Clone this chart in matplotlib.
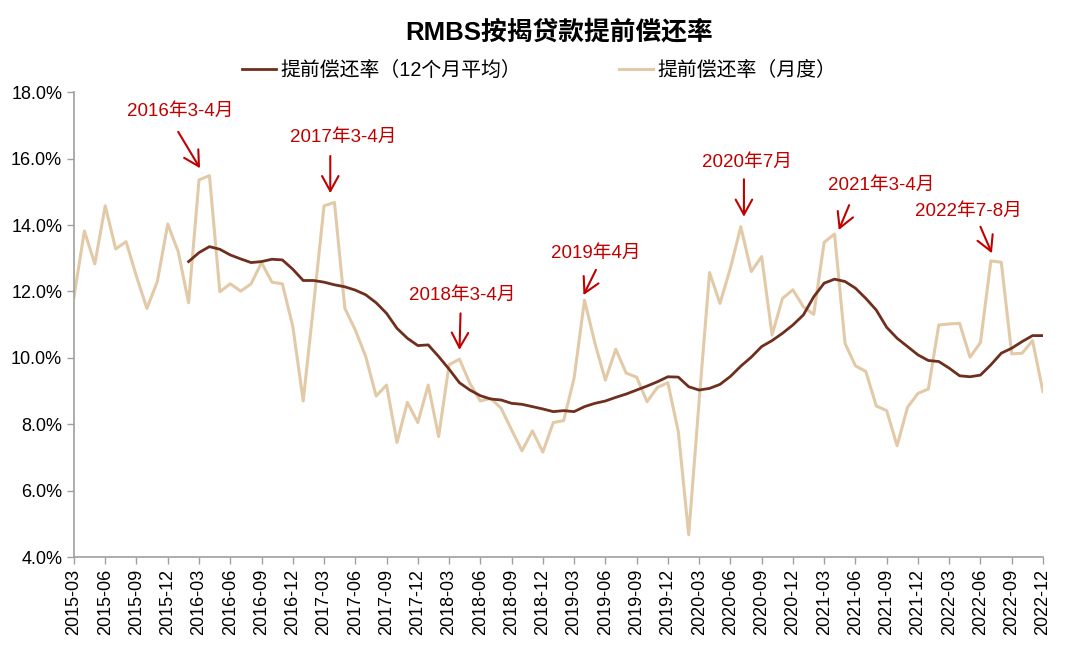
import numpy as np
import pandas as pd
import matplotlib
matplotlib.use('Agg')
import matplotlib.pyplot as plt

plt.rcParams['font.family'] = ['Liberation Sans', 'Noto Sans CJK SC', 'DejaVu Sans']
plt.rcParams['axes.unicode_minus'] = False

# month axis 2015-03 .. 2022-12
months = pd.date_range('2015-03-01', '2022-12-01', freq='MS').strftime('%Y-%m').tolist()

# monthly prepayment rate (%)
monthly = [
    11.84, 13.82, 12.83, 14.58, 13.28, 13.50, 12.45, 11.49, 12.30, 14.03, 13.20, 11.66,  # 2015-03..2016-02
    15.36, 15.49, 11.99, 12.23, 12.01, 12.23, 12.87, 12.28, 12.23, 10.95, 8.70, 11.60,   # 2016-03..2017-02
    14.58, 14.68, 11.49, 10.84, 10.04, 8.85, 9.18, 7.45, 8.66, 8.05, 9.18, 7.63,         # 2017-03..2018-02
    9.79, 9.96, 9.23, 8.70, 8.78, 8.48, 7.83, 7.20, 7.80, 7.16, 8.05, 8.11,              # 2018-03..2019-02
    9.39, 11.74, 10.44, 9.33, 10.26, 9.54, 9.42, 8.68, 9.11, 9.25, 7.78, 4.67,           # 2019-03..2020-02
    8.70, 12.57, 11.64, 12.70, 13.95, 12.60, 13.05, 10.69, 11.79, 12.05, 11.54, 11.31,   # 2020-03..2021-02
    13.48, 13.73, 10.44, 9.76, 9.59, 8.55, 8.41, 7.35, 8.51, 8.93, 9.06, 10.99,          # 2021-03..2022-02
    11.02, 11.04, 10.02, 10.46, 12.92, 12.88, 10.12, 10.14, 10.52, 8.98,                 # 2022-03..2022-12
]

# 12-month average (%), available from 2016-02
avg12 = [np.nan] * 11 + [
    12.90,
    13.17, 13.35, 13.27, 13.10, 12.98, 12.87, 12.90, 12.97, 12.95, 12.67, 12.33, 12.33,
    12.28, 12.20, 12.14, 12.04, 11.90, 11.66, 11.34, 10.89, 10.59, 10.37, 10.39, 10.04,
    9.66, 9.25, 9.03, 8.86, 8.76, 8.73, 8.63, 8.60, 8.53, 8.46, 8.38, 8.41,
    8.38, 8.53, 8.63, 8.70, 8.81, 8.91, 9.03, 9.15, 9.28, 9.43, 9.42, 9.13,
    9.03, 9.08, 9.20, 9.44, 9.75, 10.02, 10.34, 10.52, 10.74, 10.99, 11.29, 11.84,
    12.25, 12.37, 12.30, 12.10, 11.79, 11.44, 10.92, 10.59, 10.34, 10.09, 9.92, 9.89,
    9.69, 9.46, 9.43, 9.48, 9.79, 10.14, 10.29, 10.49, 10.67, 10.67,
]

# annotations: label, text position, arrow tail, arrow head (month index, %)
notes = [
    ('2016年3-4月', (10.2, 17.41), (10.0, 16.81), (12.1, 15.71)),
    ('2017年3-4月', (25.8, 16.64), (24.6, 16.08), (24.6, 14.96)),
    ('2018年3-4月', (37.3, 11.87), (37.1, 11.34), (37.0, 10.24)),
    ('2019年4月', (50.1, 13.15), (50.1, 12.65), (48.9, 11.89)),
    ('2020年7月', (64.6, 15.88), (64.3, 15.38), (64.3, 14.25)),
    ('2021年3-4月', (77.5, 15.18), (74.4, 14.60), (73.4, 13.85)),
    ('2022年7-8月', (85.8, 14.40), (87.0, 13.95), (88.1, 13.15)),
]

dark = '#6E2F1E'
light = '#E2CAA8'
red = '#C00000'
grey = '#A0A0A0'

x = np.arange(len(months))

fig = plt.figure(figsize=(10.8, 6.61), dpi=100)
ax = fig.add_axes([0.0685, 0.1573, 0.8972, 0.7031])

ax.plot(x, avg12, color=dark, lw=2.0, label='提前偿还率（12个月平均）', zorder=3)
ax.plot(x, monthly, color=light, lw=2.2, label='提前偿还率（月度）', zorder=2)

for label, txt, tail, head in notes:
    ax.text(txt[0], txt[1], label, color=red, fontsize=13.5, ha='center', va='center')
    ax.annotate('', xy=head, xytext=tail,
                arrowprops=dict(arrowstyle='->,head_length=0.6,head_width=0.33',
                                color=red, lw=1.5, mutation_scale=18,
                                shrinkA=0, shrinkB=0))

ax.set_xlim(0, len(months) - 1)
ax.set_ylim(4, 18)
ax.set_yticks(np.arange(4, 18.1, 2))
ax.set_yticklabels([f'{v:.1f}%' for v in np.arange(4, 18.1, 2)], fontsize=13)
ax.set_xticks(x[::3])
ax.set_xticklabels(months[::3], rotation=90, fontsize=13)

for s in ['top', 'right']:
    ax.spines[s].set_visible(False)
for s in ['left', 'bottom']:
    ax.spines[s].set_color(grey)
    ax.spines[s].set_linewidth(1.2)
ax.tick_params(axis='both', colors=grey, labelcolor='black', length=5, width=1.0)

fig.text(0.518, 0.952, 'RMBS按揭贷款提前偿还率', fontsize=18.5, fontweight='bold',
         ha='center', va='center')
fig.legend(loc='center', bbox_to_anchor=(0.499, 0.894), ncol=2, frameon=False,
           fontsize=14.3, handlelength=1.75, handletextpad=0.2, columnspacing=4.9)

fig.savefig('out.png', dpi=100)
